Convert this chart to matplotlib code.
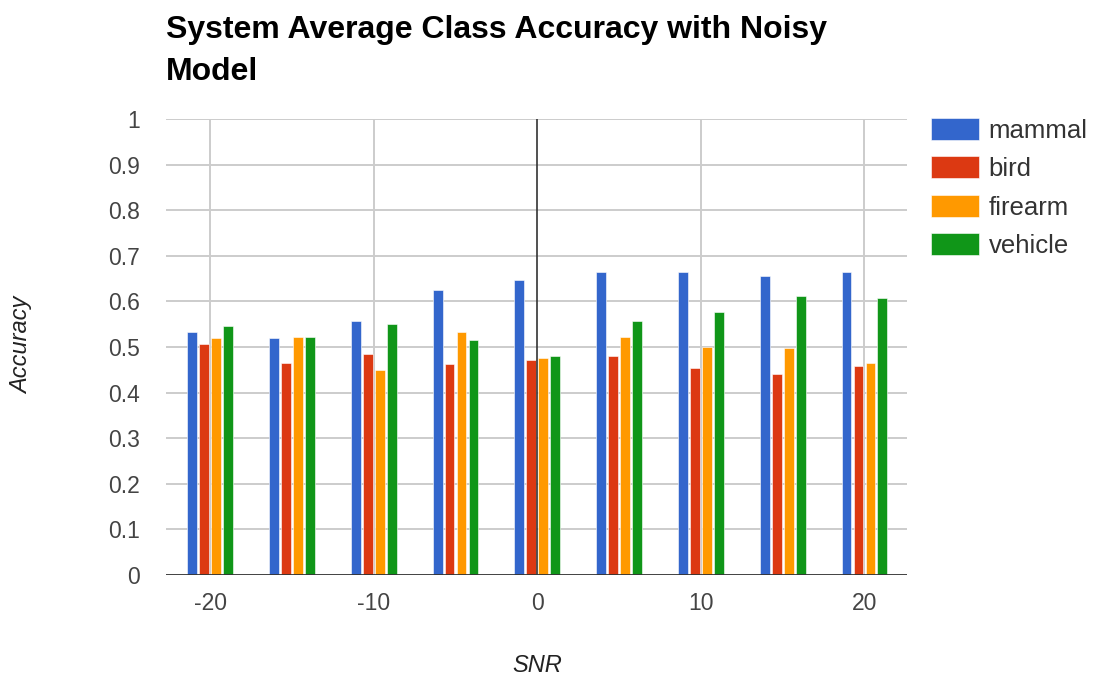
import matplotlib
matplotlib.use("Agg")
import matplotlib.pyplot as plt
import numpy as np

snr = [-20, -15, -10, -5, 0, 5, 10, 15, 20]
series_names = ["mammal", "bird", "firearm", "vehicle"]
mammal = [0.532, 0.519, 0.558, 0.624, 0.646, 0.664, 0.664, 0.655, 0.664]
bird = [0.506, 0.466, 0.484, 0.462, 0.471, 0.480, 0.453, 0.440, 0.458]
firearm = [0.519, 0.523, 0.449, 0.532, 0.475, 0.523, 0.501, 0.497, 0.466]
vehicle = [0.545, 0.523, 0.550, 0.515, 0.480, 0.558, 0.576, 0.611, 0.607]
colors = ["#3366cc", "#dc3912", "#ff9900", "#109618"]
x_ticks = [-20, -10, 0, 10, 20]
y_ticks = [0, 0.1, 0.2, 0.3, 0.4, 0.5, 0.6, 0.7, 0.8, 0.9, 1]

plt.rcParams["font.family"] = ["Liberation Sans", "DejaVu Sans"]

fig = plt.figure(figsize=(10.96, 6.79), dpi=100)
W, H = 1096, 679
left, right, top, bottom = 166, 907, 119, 575
ax = fig.add_axes([left / W, 1 - bottom / H, (right - left) / W, (bottom - top) / H])

x = np.array(snr, dtype=float)
bar_w = 0.6
pitch = 0.73
for i, (name, vals) in enumerate(zip(series_names, [mammal, bird, firearm, vehicle])):
    offs = (i - 1.5) * pitch
    ax.bar(x + offs, vals, width=bar_w, color=colors[i], label=name,
           edgecolor="white", linewidth=0.4, zorder=3)

ax.set_xlim(-22.7, 22.6)
ax.set_ylim(0, 1)
ax.set_xticks(x_ticks)
ax.set_xticklabels([str(v) for v in x_ticks])
ax.set_yticks(y_ticks)
ax.set_yticklabels(["0" if v == 0 else ("1" if v == 1 else f"{v:.1f}") for v in y_ticks])

# gridlines
for v in y_ticks[1:]:
    ax.axhline(v, color="#cccccc", linewidth=1.4, zorder=1)
for v in x_ticks:
    if v == 0:
        ax.axvline(v, color="#333333", linewidth=1.2, zorder=4)
    else:
        ax.axvline(v, color="#cccccc", linewidth=1.4, zorder=1)
ax.axhline(0, color="#333333", linewidth=1.3, zorder=4)

for s in ax.spines.values():
    s.set_visible(False)
ax.tick_params(axis="both", length=0, labelsize=16.5, labelcolor="#444444")
ax.tick_params(axis="x", pad=12)
ax.tick_params(axis="y", pad=18.5)

fig.text(537 / W, 1 - 665 / H, "SNR", fontsize=17, style="italic", color="#222222",
         ha="center", va="center")
fig.text(22 / W, 1 - 345 / H, "Accuracy", fontsize=17, style="italic", color="#222222",
         ha="center", va="center", rotation=90)

fig.text(166 / W, 1 - 15 / H, "System Average Class Accuracy with Noisy\nModel",
         fontsize=23, fontweight="bold", color="#000000", ha="left", va="top",
         linespacing=1.52)

leg = ax.legend(loc="upper left", bbox_to_anchor=(931 / W, 1 - 118 / H),
                bbox_transform=fig.transFigure, frameon=False, fontsize=18.5,
                handlelength=1.87, handleheight=0.93, handletextpad=0.38,
                labelspacing=0.53, borderpad=0, borderaxespad=0)
for t in leg.get_texts():
    t.set_color("#333333")

fig.savefig("out.png", dpi=100)
